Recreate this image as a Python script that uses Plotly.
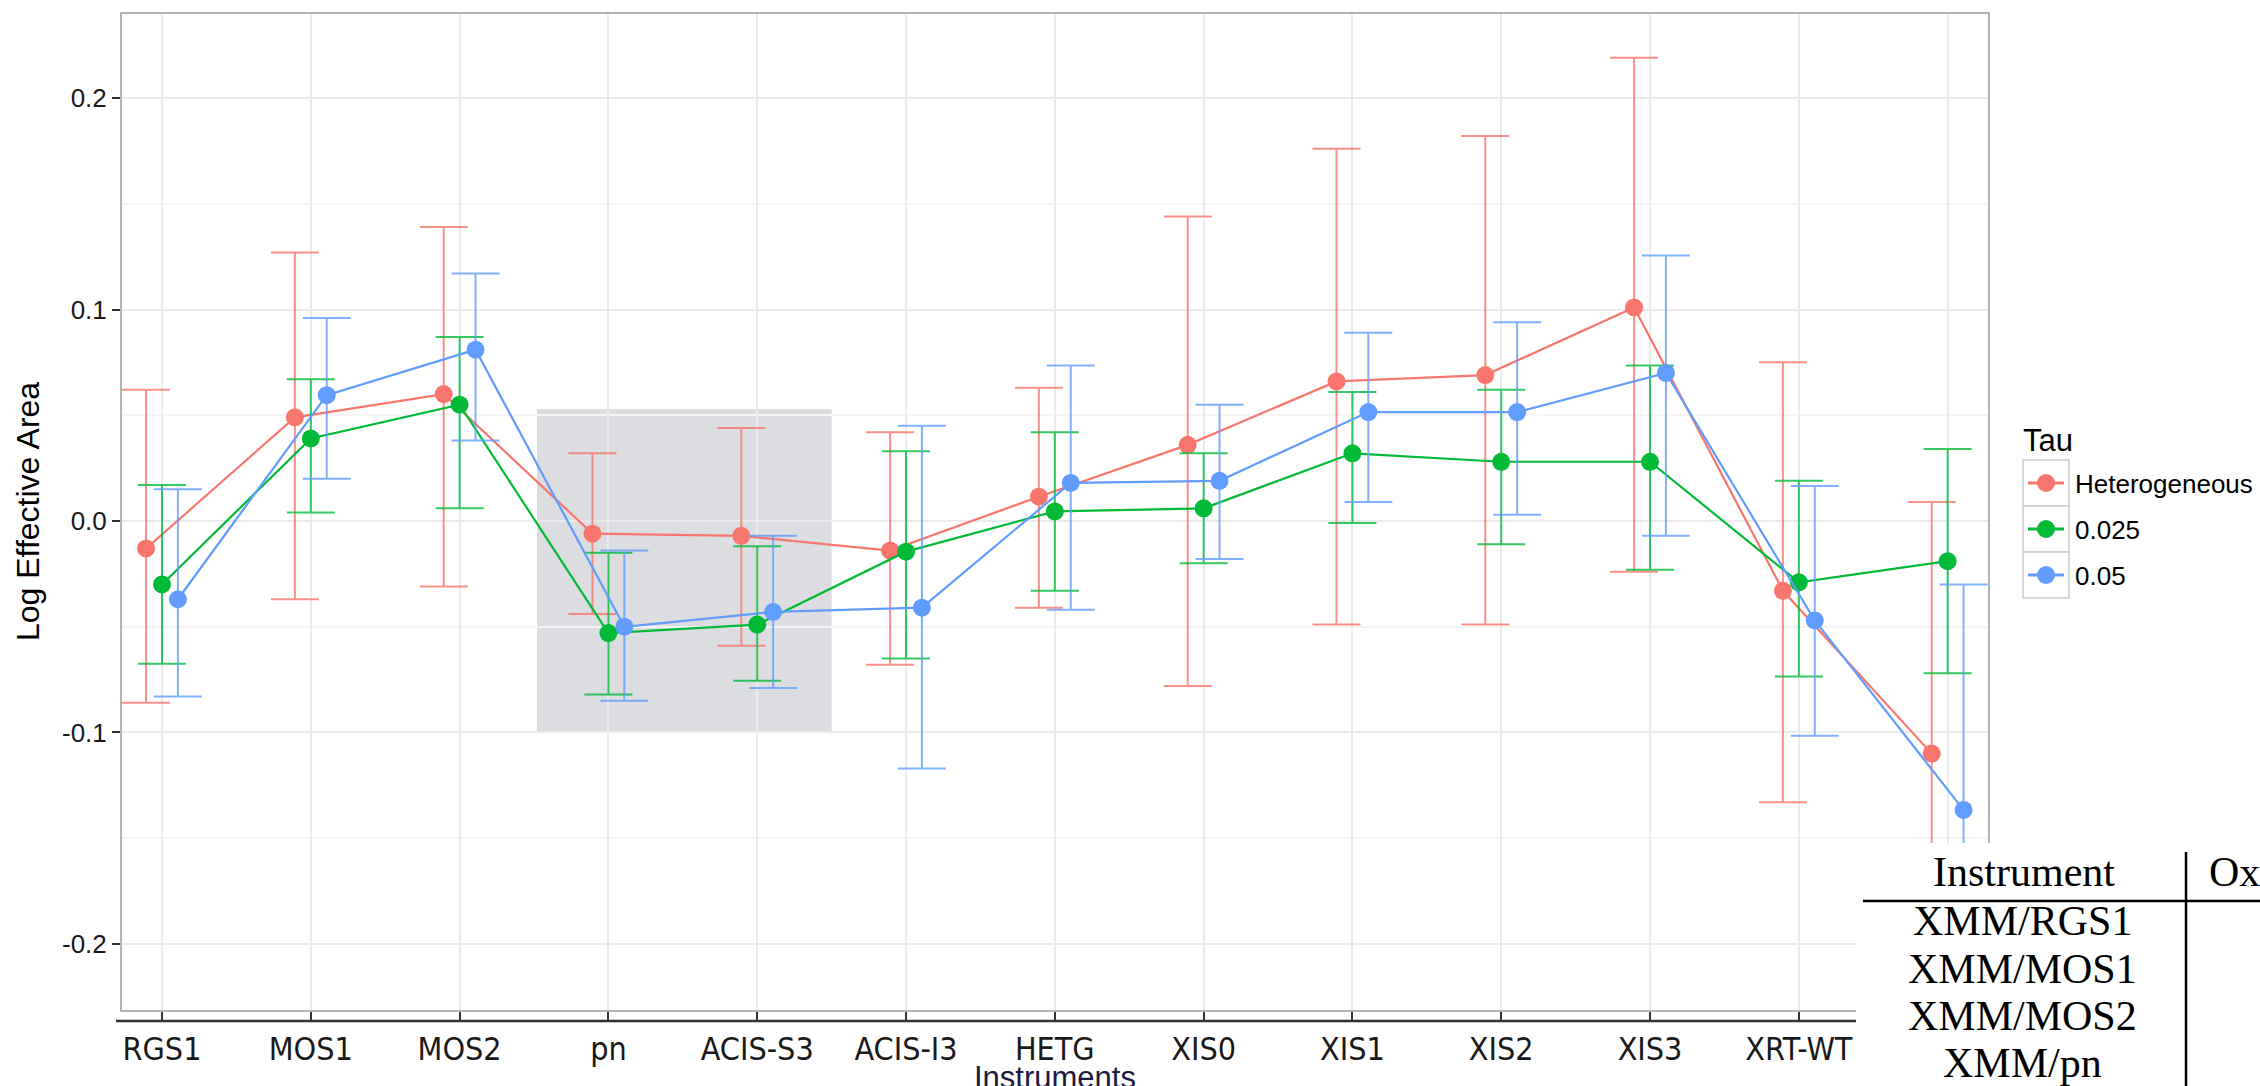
import plotly.graph_objects as go

# ---------------- data ----------------
# the 13th instrument's label is hidden behind the table in the reference
categories = ["RGS1", "MOS1", "MOS2", "pn", "ACIS-S3", "ACIS-I3", "HETG",
              "XIS0", "XIS1", "XIS2", "XIS3", "XRT-WT", ""]
series_names = ["Heterogeneous", "0.025", "0.05"]

het_mean  = [-0.013, 0.049, 0.060, -0.006, -0.007, -0.014, 0.0115, 0.036, 0.066, 0.069, 0.101, -0.033, -0.110]
het_upper = [0.062, 0.127, 0.139, 0.032, 0.044, 0.042, 0.063, 0.144, 0.176, 0.182, 0.219, 0.075, 0.009]
het_lower = [-0.086, -0.037, -0.031, -0.044, -0.059, -0.068, -0.041, -0.078, -0.049, -0.049, -0.024, -0.133, -0.205]

t025_mean  = [-0.030, 0.039, 0.055, -0.053, -0.049, -0.0145, 0.0045, 0.006, 0.032, 0.028, 0.028, -0.029, -0.019]
t025_upper = [0.017, 0.067, 0.087, -0.015, -0.012, 0.033, 0.042, 0.032, 0.061, 0.062, 0.0735, 0.019, 0.034]
t025_lower = [-0.0675, 0.004, 0.006, -0.082, -0.0755, -0.065, -0.033, -0.020, -0.001, -0.011, -0.023, -0.0735, -0.072]

t05_mean  = [-0.037, 0.0595, 0.081, -0.050, -0.043, -0.041, 0.018, 0.019, 0.0515, 0.0515, 0.070, -0.047, -0.1366]
t05_upper = [0.015, 0.096, 0.117, -0.014, -0.007, 0.045, 0.0735, 0.055, 0.089, 0.094, 0.1255, 0.0166, -0.030]
t05_lower = [-0.083, 0.020, 0.038, -0.085, -0.079, -0.117, -0.042, -0.018, 0.009, 0.003, -0.007, -0.1016, -0.210]

y_tickvals = [-0.2, -0.1, 0.0, 0.1, 0.2]
y_ticktext = ["-0.2", "-0.1", "0.0", "0.1", "0.2"]

table_header = ["Instrument", "Ox"]
table_rows = ["XMM/RGS1", "XMM/MOS1", "XMM/MOS2", "XMM/pn"]

# ---------------- styling ----------------
W, H = 2260, 1086
PL, PR, PT, PB = 121, 1989, 13, 1011
colors = ["#F8766D", "#00BA38", "#619CFF"]
err_colors = ["rgba(248,118,109,0.8)", "rgba(0,186,56,0.8)", "rgba(97,156,255,0.8)"]
dodge = [-0.107, 0.0, 0.107]


def pxx(px):
    return (px - PL) / (PR - PL)


def pxy(py):
    return (PB - py) / (PB - PT)


fig = go.Figure()
series = [(het_mean, het_upper, het_lower),
          (t025_mean, t025_upper, t025_lower),
          (t05_mean, t05_upper, t05_lower)]
for k, (m, up, lo) in enumerate(series):
    xs = [i + dodge[k] for i in range(len(categories))]
    fig.add_trace(go.Scatter(
        x=xs, y=m, mode="lines+markers", name=series_names[k],
        line=dict(color=colors[k], width=2.2),
        marker=dict(color=colors[k], size=18),
        error_y=dict(type="data", symmetric=False,
                     array=[u - v for u, v in zip(up, m)],
                     arrayminus=[v - l for v, l in zip(m, lo)],
                     color=err_colors[k], thickness=2, width=24),
        showlegend=False,
    ))

shapes = []
# highlight rectangle
shapes.append(dict(type="rect", xref="x", yref="y", x0=2.52, x1=4.5, y0=-0.1, y1=0.053,
                   fillcolor="#dcdde0", line=dict(width=0), layer="below"))
# panel border
shapes.append(dict(type="rect", xref="paper", yref="paper", x0=0, x1=1, y0=0, y1=1,
                   line=dict(color="#b3b3b3", width=2), layer="above"))
# black axis line below ticks
shapes.append(dict(type="line", xref="paper", yref="paper", x0=pxx(116), x1=pxx(1900),
                   y0=pxy(1021), y1=pxy(1021), line=dict(color="#333333", width=2.5), layer="above"))

# manual legend
row_tops = [460, 506, 552]
for k in range(3):
    top = row_tops[k]
    cy = top + 23
    shapes.append(dict(type="rect", xref="paper", yref="paper", x0=pxx(2023), x1=pxx(2069),
                       y0=pxy(top + 46), y1=pxy(top), line=dict(color="#cccccc", width=1.5),
                       fillcolor="white", layer="above"))
    shapes.append(dict(type="line", xref="paper", yref="paper", x0=pxx(2028), x1=pxx(2064),
                       y0=pxy(cy), y1=pxy(cy), line=dict(color=colors[k], width=3), layer="above"))
    shapes.append(dict(type="circle", xref="paper", yref="paper", x0=pxx(2037), x1=pxx(2055),
                       y0=pxy(cy + 9), y1=pxy(cy - 9), line=dict(width=0),
                       fillcolor=colors[k], layer="above"))

# table overlay (white block + rules)
shapes.append(dict(type="rect", xref="paper", yref="paper", x0=pxx(1856), x1=pxx(2265),
                   y0=pxy(1090), y1=pxy(843), fillcolor="white", line=dict(width=0), layer="above"))
shapes.append(dict(type="line", xref="paper", yref="paper", x0=pxx(1863), x1=pxx(2265),
                   y0=pxy(901), y1=pxy(901), line=dict(color="black", width=2.5), layer="above"))
shapes.append(dict(type="line", xref="paper", yref="paper", x0=pxx(2186), x1=pxx(2186),
                   y0=pxy(852), y1=pxy(1090), line=dict(color="black", width=2.5), layer="above"))

annotations = []
sans = "Liberation Sans, Arial, sans-serif"
serif = "Liberation Serif, Times New Roman, serif"
annotations.append(dict(text="Tau", xref="paper", yref="paper", x=pxx(2021), y=pxy(440),
                        xanchor="left", yanchor="middle", showarrow=False,
                        font=dict(family=sans, size=31, color="black")))
for k in range(3):
    annotations.append(dict(text=series_names[k], xref="paper", yref="paper",
                            x=pxx(2073), y=pxy(row_tops[k] + 24), xanchor="left", yanchor="middle",
                            showarrow=False, font=dict(family=sans, size=26, color="black")))
annotations.append(dict(text="Log Effective Area", xref="paper", yref="paper", x=pxx(28), y=0.5,
                        textangle=-90, xanchor="center", yanchor="middle", showarrow=False,
                        font=dict(family=sans, size=32, color="black")))
annotations.append(dict(text="Instruments", xref="paper", yref="paper", x=pxx(1055), y=pxy(1058),
                        xanchor="center", yanchor="top", showarrow=False,
                        font=dict(family=sans, size=31, color="#1a1a40")))
# table text
annotations.append(dict(text=table_header[0], xref="paper", yref="paper", x=pxx(2024), y=pxy(872),
                        xanchor="center", yanchor="middle", showarrow=False,
                        font=dict(family=serif, size=42, color="black")))
annotations.append(dict(text=table_header[1], xref="paper", yref="paper", x=pxx(2207), y=pxy(872),
                        xanchor="left", yanchor="middle", showarrow=False,
                        font=dict(family=serif, size=42, color="black")))
row_baselines = [935, 983, 1030, 1077]
for r, txt in enumerate(table_rows):
    annotations.append(dict(text=txt, xref="paper", yref="paper", x=pxx(2022), y=pxy(row_baselines[r] - 14),
                            xanchor="center", yanchor="middle", showarrow=False,
                            font=dict(family=serif, size=42, color="black")))

fig.update_layout(
    width=W, height=H,
    margin=dict(l=PL, r=W - PR, t=PT, b=H - PB, pad=0),
    paper_bgcolor="white", plot_bgcolor="white",
    showlegend=False,
    shapes=shapes, annotations=annotations,
    xaxis=dict(range=[-0.2755, 12.278], tickmode="array", tickvals=list(range(len(categories))),
               ticktext=categories, showgrid=True, gridcolor="#ebebeb", gridwidth=1.5,
               zeroline=False, showline=False, ticks="outside", ticklen=10, tickwidth=2,
               tickcolor="#333333",
               tickfont=dict(family="DejaVu Sans Condensed, DejaVu Sans", size=32, color="#1a1a1a")),
    yaxis=dict(range=[-0.2317, 0.2402], tickmode="array", tickvals=y_tickvals, ticktext=y_ticktext,
               showgrid=True, gridcolor="#ebebeb", gridwidth=1.5, zeroline=False, showline=False,
               ticks="outside", ticklen=8, tickwidth=2, tickcolor="#333333",
               tickfont=dict(family=sans, size=26, color="#1a1a1a"),
               minor=dict(tickvals=[-0.15, -0.05, 0.05, 0.15], showgrid=True,
                          gridcolor="#f5f5f5", gridwidth=1.5, ticks="")),
)

fig.write_html("out.html")
